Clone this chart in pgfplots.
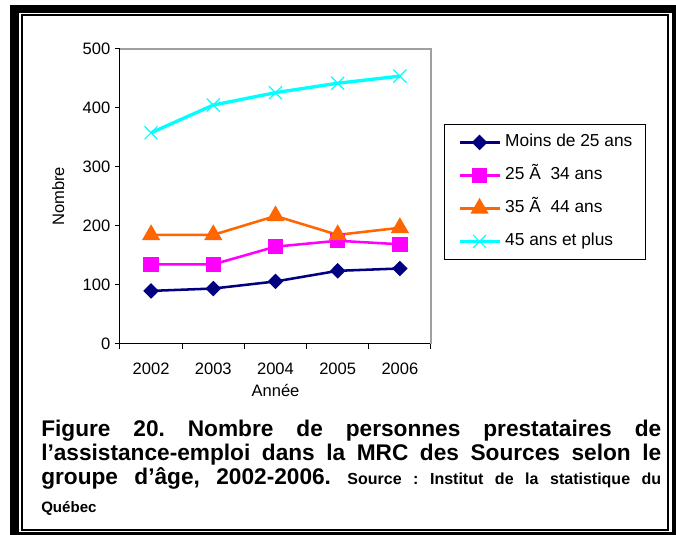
\documentclass[border=0pt]{standalone}
\usepackage{pgfplots}
\pgfplotsset{compat=1.18}
\usepackage{fontspec}
\setmainfont{Liberation Sans}
\frenchspacing
\definecolor{navy}{HTML}{000080}
\definecolor{mag}{HTML}{FF00FF}
\definecolor{orng}{HTML}{FF6600}
\definecolor{cyn}{HTML}{00FFFF}
\definecolor{plotgray}{HTML}{A0A0A0}
\begin{document}
\begin{tikzpicture}[x=0.75pt,y=0.75pt]
\useasboundingbox (0,0) rectangle (676,535);
\clip (0,0) rectangle (676,535);
\fill[white] (0,0) rectangle (676,535);
% frame
\draw[line width=6.4pt] (14.5,526) rectangle (676,-1);
\draw[line width=1.5pt] (22,520) rectangle (668,5);
\begin{axis}[
  at={(90pt,143.25pt)}, anchor=south west,
  scale only axis, width=233.25pt, height=221.25pt,
  xmin=0.5, xmax=5.5, ymin=0, ymax=500,
  axis lines*=left,
  axis line style={black, line width=0.75pt, -},
  xtick={1,2,3,4,5},
  xticklabels={2002,2003,2004,2005,2006},
  minor xtick={0.5,1.5,2.5,3.5,4.5,5.5},
  major x tick style={draw=none},
  ytick={0,100,200,300,400,500},
  tick align=outside,
  major tick length=3.75pt,
  minor tick length=3.75pt,
  tick style={black, line width=0.75pt},
  /pgf/number format/assume math mode=true,
  ticklabel style={font=\fontsize{12.4}{14}\selectfont},
  xticklabel style={anchor=center, yshift=-15pt},
  xlabel={Année},
  ylabel={Nombre},
  label style={font=\fontsize{12.4}{14}\selectfont},
  xlabel style={at={(axis description cs:0.5,-0.156)}, anchor=center},
  ylabel style={at={(axis description cs:-0.199,0.5)}, anchor=center},
  clip=false,
  legend cell align=left,
  legend image code/.code={\draw[mark repeat=2,mark phase=2,#1] plot coordinates {(0pt,0pt) (15pt,0pt) (30pt,0pt)};},
  legend style={at={(axis description cs:1.042,0.746)}, anchor=north west,
    draw=black, line width=0.75pt, fill=white,
    font=\fontsize{13}{15}\selectfont,
    inner xsep=10pt, inner ysep=7.5pt,
    row sep=12.75pt,
    nodes={inner sep=0pt, text height=9pt, text depth=3pt},
    /tikz/every odd column/.append style={column sep=3pt}},
]
\addplot[navy, line width=1.9pt, mark=diamond*, mark size=4.5pt, mark options={xscale=1.33, fill=navy, solid}] coordinates {(1,90) (2,94) (3,106) (4,124) (5,128)};
\addlegendentry{Moins de 25 ans}
\addplot[mag, line width=1.9pt, mark=square*, mark size=4.8pt, mark options={fill=mag, solid}] coordinates {(1,135) (2,135) (3,165) (4,175) (5,169)};
\addlegendentry{25 Ã\ \ 34 ans}
\addplot[orng, line width=1.9pt, mark=triangle*, mark size=6pt, mark options={fill=orng, solid}] coordinates {(1,185) (2,185) (3,217) (4,185) (5,197)};
\addlegendentry{35 Ã\ \ 44 ans}
\addplot[cyn, line width=2.5pt, mark=x, mark size=6.9pt, mark options={line width=0.9pt, solid}] coordinates {(1,358) (2,405) (3,426) (4,442) (5,454)};
\addlegendentry{45 ans et plus}
\draw[plotgray, line width=1.1pt] (rel axis cs:0,1) -- (rel axis cs:1,1) -- (rel axis cs:1,0);
\end{axis}
\node[anchor=north west, inner sep=0pt, text width=465pt, align=justify] at (41,115)
{\bfseries\frenchspacing\fontsize{17}{18}\selectfont Figure 20. Nombre de personnes prestataires de\linebreak l'assistance-emploi dans la MRC des Sources selon le\linebreak {\parfillskip=0pt groupe d’âge, 2002-2006. {\fontsize{12}{18}\selectfont Source : Institut de la statistique du}\par}
\vspace{7pt}{\fontsize{11.3}{14}\selectfont Québec\par}};
\end{tikzpicture}
\end{document}
